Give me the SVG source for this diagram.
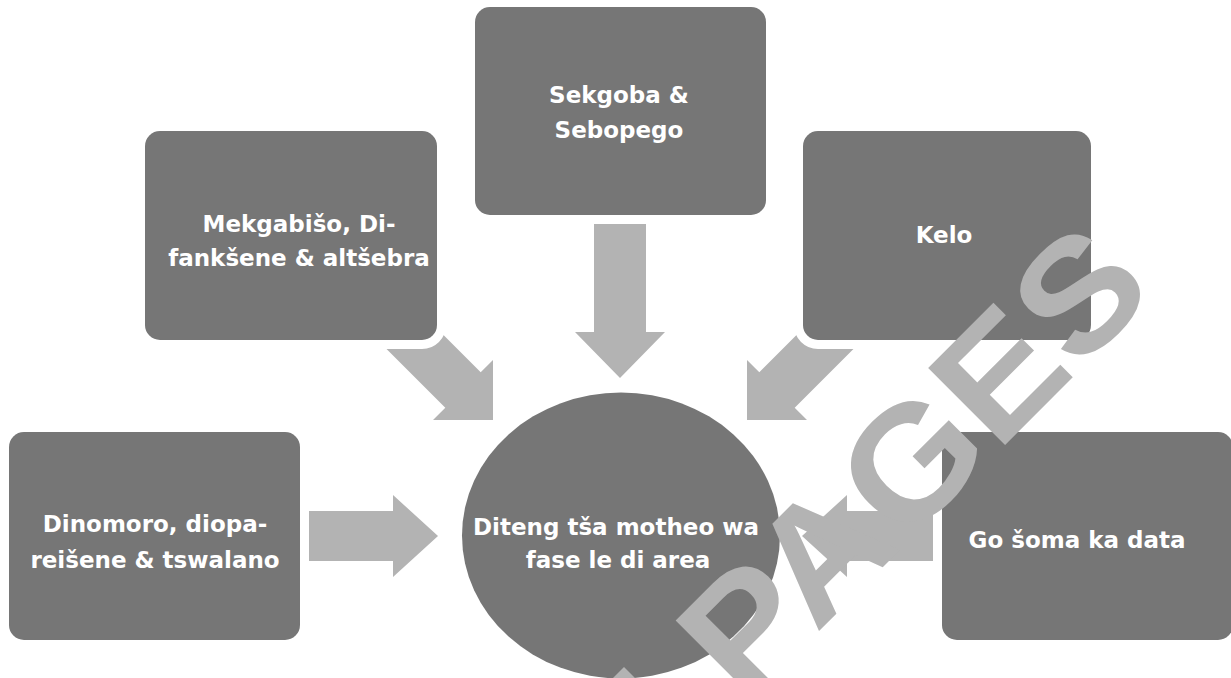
<svg xmlns="http://www.w3.org/2000/svg" width="1231" height="678" viewBox="0 0 1231 678">
<style>
.box{fill:#767676;stroke:#ffffff;stroke-width:18;paint-order:stroke}
.arr{fill:#b3b3b3}
.lbl{font-family:"DejaVu Sans","Liberation Sans",sans-serif;font-weight:bold;font-size:23px;fill:#ffffff;text-anchor:middle}
.wm{font-family:"Liberation Sans","DejaVu Sans",sans-serif;font-weight:bold;font-size:158px;fill:#b3b3b3}
</style>
<rect width="1231" height="678" fill="#ffffff"/>
<g id="connectors">
<polygon class="arr" points="290,511 393,511 393,495 438,536 393,577 393,561 290,561"/>
<polygon class="arr" points="950,511 847,511 847,495 802,536 847,577 847,561 950,561"/>
<polygon class="arr" points="594,195 646,195 646,332 665,332 620,378 575,332 594,332"/>
<polygon class="arr" points="407.7,299.3 480.7,372.3 493,360 493,420 433,420 445.3,407.7 372.3,334.7"/>
<polygon class="arr" points="832.3,299.3 759.3,372.3 747,360 747,420 807,420 794.7,407.7 867.7,334.7"/>
</g>
<g id="node-dinomoro">
<rect class="box" x="9" y="432" width="291" height="208" rx="15"/>
<text class="lbl" x="155" y="532">Dinomoro, diopa-</text>
<text class="lbl" x="155" y="568">reišene &amp; tswalano</text>
</g>
<g id="node-mekgabiso">
<rect class="box" x="145" y="131" width="292" height="209" rx="15"/>
<text class="lbl" x="299" y="232">Mekgabišo, Di-</text>
<text class="lbl" x="299" y="266">fankšene &amp; altšebra</text>
</g>
<g id="node-sekgoba">
<rect class="box" x="475" y="7" width="291" height="208" rx="15"/>
<text class="lbl" x="619" y="103">Sekgoba &amp;</text>
<text class="lbl" x="619" y="138">Sebopego</text>
</g>
<g id="node-kelo">
<rect class="box" x="803" y="131" width="288" height="209" rx="15"/>
<text class="lbl" x="944" y="243">Kelo</text>
</g>
<g id="node-data">
<rect class="box" x="942" y="432" width="291" height="208" rx="15"/>
<text class="lbl" x="1077" y="548">Go šoma ka data</text>
</g>
<g id="node-center">
<ellipse cx="621" cy="535.5" rx="159" ry="143" fill="#767676"/>
<text class="lbl" x="616" y="535">Diteng tša motheo wa</text>
<text class="lbl" x="618" y="568">fase le di area</text>
</g>
<g id="connector-bottom">
<polygon class="arr" points="624,667 669,712 579,712"/>
</g>
<g id="watermark">
<text class="wm" x="0" y="0" transform="translate(744.4 705.6) rotate(-45) scale(1.08 1)">PAGES</text>
</g>
</svg>
